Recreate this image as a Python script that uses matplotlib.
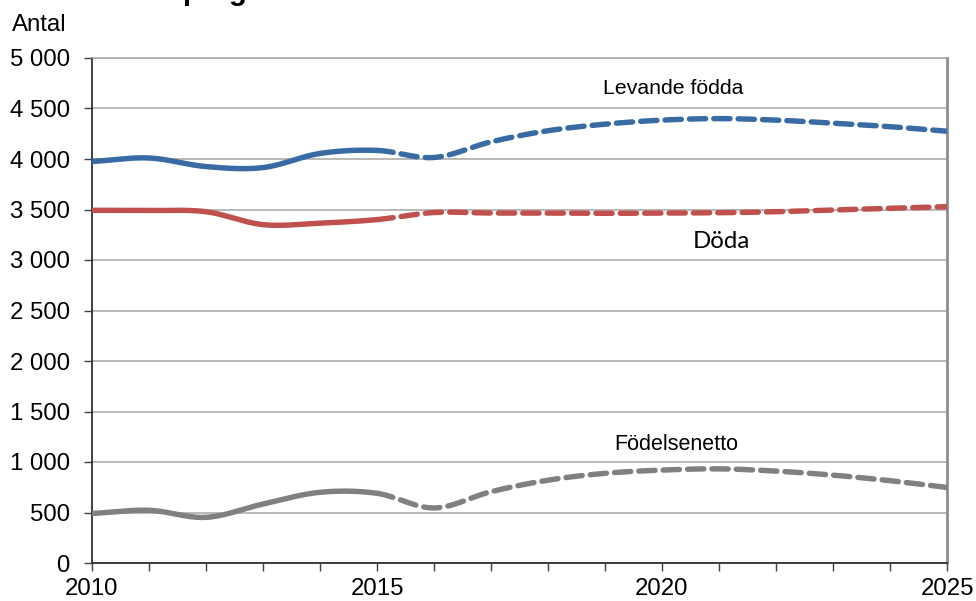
import numpy as np
import matplotlib
matplotlib.use("Agg")
import matplotlib.pyplot as plt
from matplotlib.ticker import FixedLocator, FuncFormatter

years = [2010, 2011, 2012, 2013, 2014, 2015, 2016, 2017, 2018, 2019, 2020, 2021, 2022, 2023, 2024, 2025]
levande_fodda = [3975, 4010, 3925, 3915, 4055, 4085, 4015, 4170, 4280, 4345, 4385, 4400, 4385, 4355, 4320, 4275]
doda = [3492, 3490, 3478, 3350, 3365, 3400, 3470, 3465, 3465, 3462, 3465, 3468, 3478, 3495, 3512, 3528]
fodelsenetto = [490, 522, 452, 584, 700, 690, 545, 706, 820, 888, 920, 932, 910, 870, 815, 748]
last_history_year = 2015

yticks = [0, 500, 1000, 1500, 2000, 2500, 3000, 3500, 4000, 4500, 5000]
xlabels = [2010, 2015, 2020, 2025]

series = [
    (levande_fodda, "#386AA3", "Levande födda", 2020.2, 4700, "Liberation Sans", 15.3),
    (doda, "#C0504D", "Döda", 2021.05, 3180, "Lato", 17.3),
    (fodelsenetto, "#808080", "Födelsenetto", 2020.25, 1170, "Liberation Sans", 15.5),
]


def catmull_rom(x, y, n=30):
    x = np.asarray(x, float)
    y = np.asarray(y, float)
    px = np.concatenate([[2 * x[0] - x[1]], x, [2 * x[-1] - x[-2]]])
    py = np.concatenate([[2 * y[0] - y[1]], y, [2 * y[-1] - y[-2]]])
    xs, ys = [], []
    for i in range(1, len(px) - 2):
        t = np.linspace(0, 1, n, endpoint=False)
        p0, p1, p2, p3 = py[i - 1], py[i], py[i + 1], py[i + 2]
        q0, q1, q2, q3 = px[i - 1], px[i], px[i + 1], px[i + 2]
        f = lambda a0, a1, a2, a3: 0.5 * ((2 * a1) + (-a0 + a2) * t
                                          + (2 * a0 - 5 * a1 + 4 * a2 - a3) * t ** 2
                                          + (-a0 + 3 * a1 - 3 * a2 + a3) * t ** 3)
        xs.append(f(q0, q1, q2, q3))
        ys.append(f(p0, p1, p2, p3))
    xs.append([x[-1]])
    ys.append([y[-1]])
    return np.concatenate(xs), np.concatenate(ys)


plt.rcParams['font.family'] = ['Liberation Sans', 'DejaVu Sans']

fig = plt.figure(figsize=(9.76, 6.01), dpi=100)
ax = fig.add_axes([92 / 976, 38 / 601, (947 - 92) / 976, (563 - 58) / 601])

for vals, color, label, lx, ly, fam, fs in series:
    xs, ys = catmull_rom(years, vals)
    hist = xs <= last_history_year + 1e-9
    fut = xs >= last_history_year - 1e-9
    ax.plot(xs[hist], ys[hist], color=color, lw=3.9, solid_capstyle='round', zorder=3)
    ax.plot(xs[fut], ys[fut], color=color, lw=3.9, dashes=(3.0, 1.5),
            dash_capstyle='round', zorder=3)
    ax.text(lx, ly, label, ha='center', va='center', fontsize=fs,
            family=[fam, 'DejaVu Sans'], color='black')

ax.set_xlim(2010, 2025)
ax.set_ylim(0, 5000)
ax.yaxis.set_major_locator(FixedLocator(yticks))
ax.yaxis.set_major_formatter(FuncFormatter(lambda v, p: f"{int(v):,}".replace(",", " ")))
ax.xaxis.set_major_locator(FixedLocator(xlabels))
ax.xaxis.set_minor_locator(FixedLocator(years))
ax.grid(axis='y', color='#A6A6A6', lw=1.1, zorder=0)
ax.tick_params(axis='y', which='major', direction='out', length=6, width=1, color='#404040',
               labelsize=17.3, pad=10)
ax.tick_params(axis='x', which='both', direction='out', length=6, width=1, color='#404040',
               labelsize=17.3, pad=5)
for s in ['left', 'bottom']:
    ax.spines[s].set_color('#303030')
    ax.spines[s].set_linewidth(1.3)
ax.spines['right'].set_color('#8C8C8C')
ax.spines['right'].set_linewidth(2)
ax.spines['top'].set_color('#A6A6A6')
ax.spines['top'].set_linewidth(1.1)

fig.text(12 / 976, 1 - 25 / 601, "Antal", ha='left', va='center', fontsize=17.3)
fig.text(182 / 976, 1 + 0.5 / 601, "prognos", ha='left', va='baseline', fontsize=21,
         fontweight='bold')

fig.savefig("out.png", dpi=100)
